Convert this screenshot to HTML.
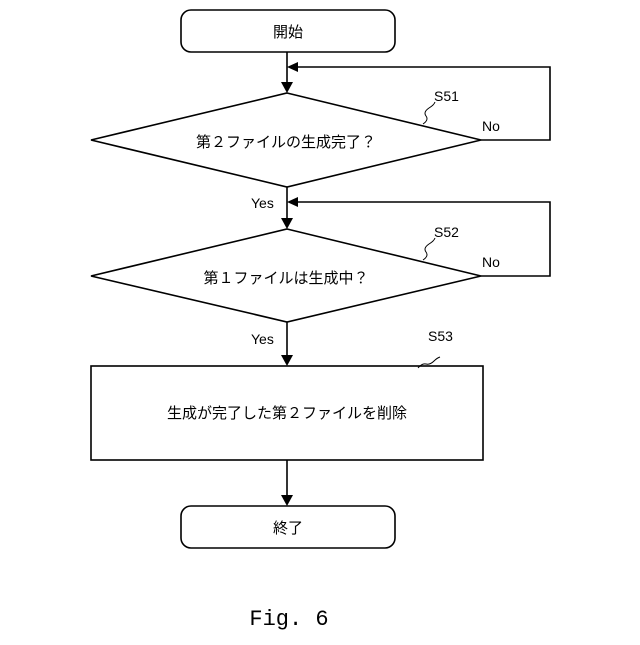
<!DOCTYPE html>
<html><head><meta charset="utf-8"><style>
html,body{margin:0;padding:0;background:#fff;}
svg text{font-family:"Liberation Sans","Noto Sans CJK JP",sans-serif;fill:#000;}
</style></head><body>
<svg width="640" height="640" viewBox="0 0 640 640" xmlns="http://www.w3.org/2000/svg">
<g fill="none" stroke="#000" stroke-width="1.6">
<rect x="181" y="10" width="214" height="42" rx="10"/>
<line x1="287" y1="52" x2="287" y2="84"/>
<polygon points="287,93 91,140 481,140" fill="none" stroke="none"/>
<polygon points="287,93 481,140 287,187 91,140"/>
<polyline points="481,140 550,140 550,67 296,67"/>
<line x1="287" y1="187" x2="287" y2="220"/>
<polygon points="287,229 481,276 287,322 91,276"/>
<polyline points="481,276 550,276 550,202 296,202"/>
<line x1="287" y1="322" x2="287" y2="357"/>
<rect x="91" y="366" width="392" height="94"/>
<line x1="287" y1="460" x2="287" y2="497"/>
<rect x="181" y="506" width="214" height="42" rx="10"/>
<path d="M423,124 q6,-4 3,-8 q-3,-4 3,-8 q5,-3 6,-6" stroke-width="1"/>
<path d="M423,260 q6,-4 3,-8 q-3,-4 3,-8 q5,-3 6,-6" stroke-width="1"/>
<path d="M418,368 q4,-5 8,-4 q4,1 8,-3 q3,-3 6,-4" stroke-width="1"/>
</g>
<g fill="#000">
<polygon points="281,82 293,82 287,93"/>
<polygon points="281,218 293,218 287,229"/>
<polygon points="281,355 293,355 287,366"/>
<polygon points="281,495 293,495 287,506"/>
<polygon points="287,67 298,62 298,72"/>
<polygon points="287,202 298,197 298,207"/>
</g>
<g font-size="15">
<text x="288" y="37" text-anchor="middle">開始</text>
<text x="286" y="147" text-anchor="middle">第２ファイルの生成完了？</text>
<text x="286" y="283" text-anchor="middle">第１ファイルは生成中？</text>
<text x="287" y="418" text-anchor="middle">生成が完了した第２ファイルを削除</text>
<text x="288" y="533" text-anchor="middle">終了</text>
</g>
<g font-size="14">
<text x="434" y="101">S51</text>
<text x="482" y="131">No</text>
<text x="251" y="208">Yes</text>
<text x="434" y="237">S52</text>
<text x="482" y="267">No</text>
<text x="251" y="344">Yes</text>
<text x="428" y="341">S53</text>
</g>
<text x="289" y="625" font-size="22" text-anchor="middle" style="font-family:'Liberation Mono',monospace">Fig. 6</text>
</svg>
</body></html>
